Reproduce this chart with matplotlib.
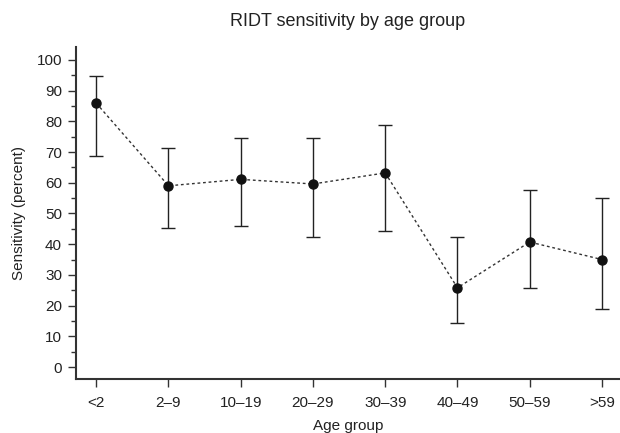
import matplotlib
matplotlib.use("Agg")
import matplotlib.pyplot as plt
from matplotlib.ticker import MultipleLocator

plt.rcParams['font.family'] = ['Liberation Sans', 'DejaVu Sans']

age_groups = ["<2", "2\u20139", "10\u201319", "20\u201329", "30\u201339", "40\u201349", "50\u201359", ">59"]
sensitivity = [85.9, 59.0, 61.1, 59.6, 63.2, 25.8, 40.7, 35.0]
ci_lower = [68.6, 45.3, 45.9, 42.4, 44.4, 14.3, 25.7, 19.0]
ci_upper = [94.6, 71.4, 74.5, 74.7, 78.8, 42.2, 57.7, 55.0]

fig = plt.figure(figsize=(6.2, 4.33), dpi=100)
ax = fig.add_axes([0.1226, 0.1247, 0.8774, 0.7668])

x = list(range(len(age_groups)))
yerr = [[s - l for s, l in zip(sensitivity, ci_lower)],
        [u - s for s, u in zip(sensitivity, ci_upper)]]

ax.plot(x, sensitivity, linestyle=(0, (2, 2)), color='#333333', linewidth=1.0, zorder=2)
ax.errorbar(x, sensitivity, yerr=yerr, fmt='none', ecolor='#222222',
            elinewidth=1.0, capsize=5, capthick=1.0, zorder=3)
ax.plot(x, sensitivity, 'o', color='#111111', markersize=6.5, zorder=4)

ax.set_xlim(-0.28, 7.25)
ax.set_ylim(-3.9, 104.2)
ax.set_xticks(x)
ax.set_xticklabels(age_groups)
ax.set_yticks(range(0, 101, 10))
ax.yaxis.set_minor_locator(MultipleLocator(5))

for s in ['top', 'right']:
    ax.spines[s].set_visible(False)
for s in ['left', 'bottom']:
    ax.spines[s].set_color('#333333')
    ax.spines[s].set_linewidth(1.5)

ax.tick_params(axis='both', which='major', direction='out', length=6, width=1.0,
               color='#333333', labelsize=11, labelcolor='#222222', pad=4)
ax.tick_params(axis='y', which='minor', direction='out', length=3.5, width=1.0, color='#333333')
ax.tick_params(axis='x', which='major', pad=6.5)

ax.set_xlabel("Age group", fontsize=11, color='#222222', labelpad=6)
ax.set_ylabel("Sensitivity (percent)", fontsize=11, color='#222222', labelpad=8)
fig.suptitle("RIDT sensitivity by age group", x=0.56, y=0.97, fontsize=13, color='#222222')

fig.savefig("out.png", dpi=100)
